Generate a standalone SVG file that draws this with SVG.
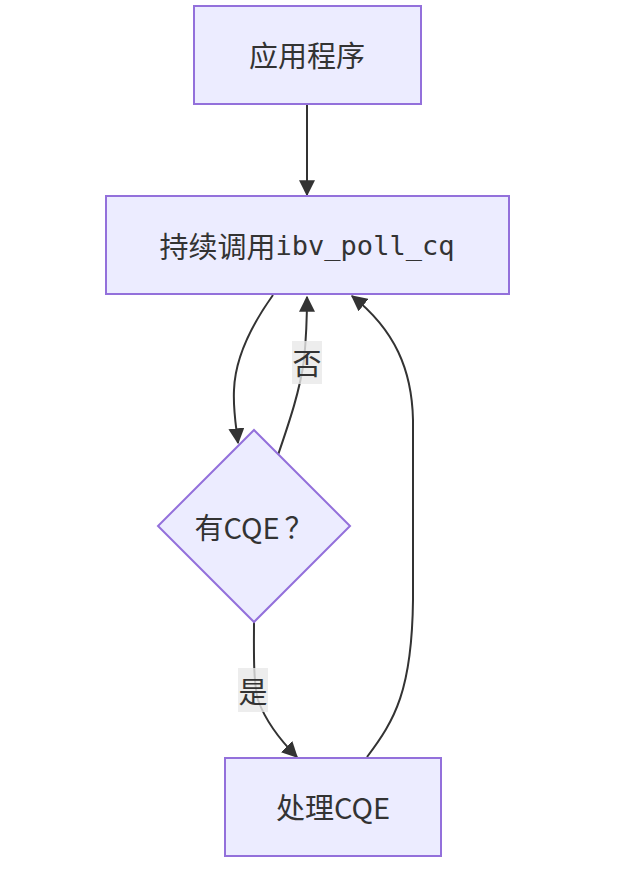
<svg xmlns="http://www.w3.org/2000/svg" width="620" height="869" viewBox="0 0 620 869">
<defs>
<style>
.node{fill:#ECECFF;stroke:#9370DB;stroke-width:2;}
.t{font-family:"Noto Sans CJK SC","Noto Sans","DejaVu Sans",sans-serif;font-size:29px;fill:#333;text-anchor:middle;dominant-baseline:central;}
.mono{font-family:"DejaVu Sans Mono","Liberation Mono",monospace;font-size:27px;}
.edge{fill:none;stroke:#333;stroke-width:2;}
.lbg{fill:#e8e8e8;opacity:0.8;}
</style>
<marker id="arrow" viewBox="0 0 12 12" refX="11" refY="6" markerWidth="16" markerHeight="16" markerUnits="userSpaceOnUse" orient="auto">
<path d="M0,0 L12,6 L0,12 z" fill="#333"/>
</marker>
</defs>
<g id="edges">
<path class="edge" d="M307,105 L307,195" marker-end="url(#arrow)"/>
<path class="edge" d="M273,295 C248,330 235,360 234,390 C233,410 236,425 238,443" marker-end="url(#arrow)"/>
<path class="edge" d="M278,455 C290,420 300,390 304,360 C306,340 307,320 307,297" marker-end="url(#arrow)"/>
<path class="edge" d="M254,622 C254,650 253,680 258,700 C266,722 280,740 297,757" marker-end="url(#arrow)"/>
<path class="edge" d="M367,757 C395,720 412,690 413,600 L413,420 C412,370 395,330 352,296" marker-end="url(#arrow)"/>
</g>
<g id="label-no">
<rect class="lbg" x="292" y="341" width="30" height="43"/>
<text class="t" x="307" y="362">否</text>
</g>
<g id="label-yes">
<rect class="lbg" x="238" y="668" width="30" height="44"/>
<text class="t" x="253" y="690">是</text>
</g>
<g id="app">
<rect class="node" x="194" y="6" width="227" height="98"/>
<text class="t" x="307" y="54">应用程序</text>
</g>
<g id="poll">
<rect class="node" x="106" y="196" width="403" height="98"/>
<text class="t" x="307" y="245">持续调用<tspan class="mono">ibv_poll_cq</tspan></text>
</g>
<g id="decision">
<polygon class="node" points="254,430 350,526 254,622 158,526"/>
<text class="t" x="254" y="526">有CQE<tspan dx="5">？</tspan></text>
</g>
<g id="process">
<rect class="node" x="225" y="758" width="216" height="98"/>
<text class="t" x="333" y="806">处理CQE</text>
</g>
</svg>
